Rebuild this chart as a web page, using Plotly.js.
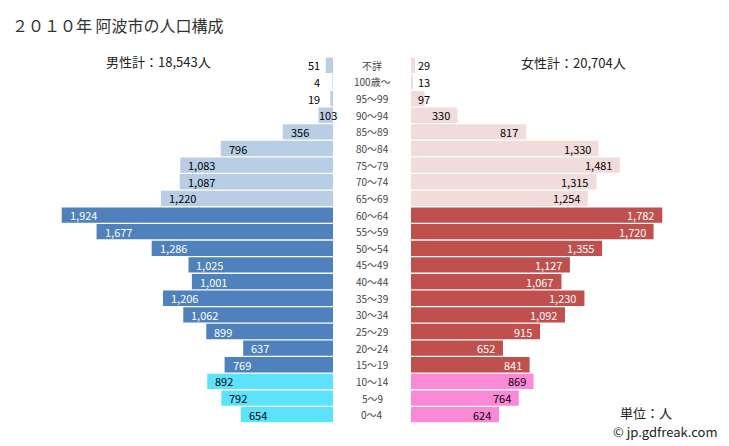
<!DOCTYPE html>
<html>
<head>
<meta charset="utf-8">
<script src="https://cdn.plot.ly/plotly-3.0.1.min.js"></script>
<style>html,body{margin:0;padding:0;background:#fff;}#chart{width:729px;height:446px;}</style>
</head>
<body>
<div id="chart"></div>
<script>
var ageGroups = ["不詳","100歳～","95～99","90～94","85～89","80～84","75～79","70～74","65～69","60～64","55～59","50～54","45～49","40～44","35～39","30～34","25～29","20～24","15～19","10～14","5～9","0～4"];
var maleValues = [51,4,19,103,356,796,1083,1087,1220,1924,1677,1286,1025,1001,1206,1062,899,637,769,892,792,654];
var femaleValues = [29,13,97,330,817,1330,1481,1315,1254,1782,1720,1355,1127,1067,1230,1092,915,652,841,869,764,624];
var titleText = "２０１０年 阿波市の人口構成";
var maleTotalText = "男性計：18,543人";
var femaleTotalText = "女性計：20,704人";
var unitText = "単位：人";
var creditText = "© jp.gdfreak.com";

var FONT = "Meiryo, 'Noto Sans CJK JP', 'Noto Sans', sans-serif";
var idx = ageGroups.map(function(_, i){ return i; });
function group(i){ return i <= 8 ? 0 : (i <= 18 ? 1 : 2); }
var maleCols = ["#b9cde5","#4f81bd","#5ce3fb"];
var femaleCols = ["#f2dcdb","#c0504d","#fc88d8"];

var traces = [
  {type:"bar", orientation:"h", x:maleValues, y:idx, xaxis:"x", yaxis:"y",
   marker:{color:idx.map(function(i){return maleCols[group(i)];})}, hoverinfo:"none"},
  {type:"bar", orientation:"h", x:femaleValues, y:idx, xaxis:"x2", yaxis:"y",
   marker:{color:idx.map(function(i){return femaleCols[group(i)];})}, hoverinfo:"none"}
];

function fmt(v){ return v.toLocaleString("en-US"); }
var ann = [];
idx.forEach(function(i){
  var mv = maleValues[i], fv = femaleValues[i];
  var mc = group(i) === 1 ? "#ffffff" : "#000000";
  var fc = group(i) === 1 ? "#ffffff" : "#000000";
  var m = {xref:"x", yref:"y", y:i, text:fmt(mv), showarrow:false,
           font:{family:FONT, size:11, color:mc}};
  if (mv >= 300) { m.x = mv; m.xanchor = "left"; m.xshift = 6; }
  else if (mv >= 100) { m.x = mv; m.xanchor = "left"; m.xshift = -1; m.font.color = "#000"; }
  else { m.x = 0; m.xanchor = "right"; m.xshift = -11; m.font.color = "#000"; }
  ann.push(m);
  var f = {xref:"x2", yref:"y", y:i, text:fmt(fv), showarrow:false,
           font:{family:FONT, size:11, color:fc}};
  if (fv >= 300) { f.x = fv; f.xanchor = "right"; f.xshift = -6; }
  else { f.x = 0; f.xanchor = "left"; f.xshift = 5; f.font.color = "#000"; }
  ann.push(f);
  ann.push({xref:"paper", yref:"y", x:372/729, y:i, xanchor:"center", text:ageGroups[i],
            showarrow:false, font:{family:FONT, size:10, color:"#444444"}});
});

var layout = {
  width:729, height:446,
  margin:{l:0, r:0, t:57, b:23, pad:0},
  paper_bgcolor:"#ffffff", plot_bgcolor:"#ffffff",
  showlegend:false, bargap:0.08,
  xaxis:{domain:[0, 333/729], range:[2362, 0], showticklabels:false, showgrid:false, zeroline:false, showline:false, fixedrange:true},
  xaxis2:{domain:[411/729, 1], range:[0, 2255], showticklabels:false, showgrid:false, zeroline:false, showline:false, fixedrange:true},
  yaxis:{range:[21.5, -0.5], showticklabels:false, showgrid:false, zeroline:false, showline:false, fixedrange:true},
  annotations: ann.concat([
    {xref:"paper", yref:"paper", x:10/729, y:(446-11-23)/366, xanchor:"left", yanchor:"top",
     text:titleText, showarrow:false, font:{family:FONT, size:16, color:"#333333"}},
    {xref:"paper", yref:"paper", x:158/729, y:(446-61-23)/366, xanchor:"center", yanchor:"middle",
     text:maleTotalText, showarrow:false, font:{family:FONT, size:13, color:"#222222"}},
    {xref:"paper", yref:"paper", x:573/729, y:(446-62-23)/366, xanchor:"center", yanchor:"middle",
     text:femaleTotalText, showarrow:false, font:{family:FONT, size:13, color:"#222222"}},
    {xref:"paper", yref:"paper", x:646/729, y:(446-412-23)/366, xanchor:"center", yanchor:"middle",
     text:unitText, showarrow:false, font:{family:FONT, size:13, color:"#222222"}},
    {xref:"paper", yref:"paper", x:720/729, y:(446-432-23)/366, xanchor:"right", yanchor:"middle",
     text:creditText, showarrow:false, font:{family:FONT, size:13, color:"#222222"}}
  ])
};
Plotly.newPlot("chart", traces, layout, {staticPlot:true, displayModeBar:false});
</script>
</body>
</html>
